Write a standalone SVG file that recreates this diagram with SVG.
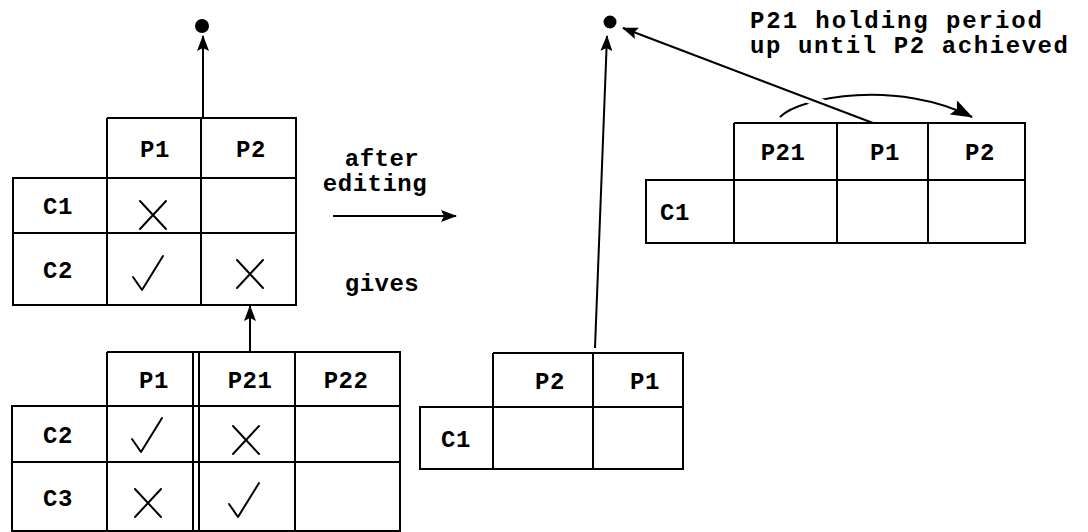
<svg xmlns="http://www.w3.org/2000/svg" width="1088" height="532" viewBox="0 0 1088 532">
<style>
.g{fill:none;stroke:#000;stroke-width:2}
.t{font-family:"Liberation Mono","Courier New",monospace;font-weight:bold;font-size:24px;letter-spacing:0.5px;fill:#000;text-anchor:middle}
.l{font-family:"Liberation Mono","Courier New",monospace;font-weight:bold;font-size:24px;fill:#000}
.m{fill:none;stroke:#000;stroke-width:2;stroke-linecap:round;stroke-linejoin:round}
.c{fill:none;stroke:#000;stroke-width:2}
</style>
<defs>
<marker id="ah" markerWidth="16" markerHeight="12" refX="15" refY="6" orient="auto" markerUnits="userSpaceOnUse">
<path d="M0,0 L16,6 L0,12 L3,6 Z" fill="#000"/>
</marker>
<marker id="ahb" markerWidth="22" markerHeight="16" refX="21" refY="8" orient="auto" markerUnits="userSpaceOnUse">
<path d="M0,0 L22,8 L0,16 L4,8 Z" fill="#000"/>
</marker>
<g id="x"><path class="m" d="M-13,-14 L13,14 M13,-14 L-13,14"/></g>
<g id="ck"><path class="m" d="M-15,3 L-6,16 L15,-18"/></g>
</defs>
<rect width="1088" height="532" fill="#fff"/>

<g id="table1">
<path class="g" d="M107,118 H296 V305 H13 V178 H296 M107,118 V305 M201,118 V305 M13,233 H296"/>
<text class="t" x="155" y="157">P1</text>
<text class="t" x="251" y="157">P2</text>
<text class="t" x="58" y="214">C1</text>
<text class="t" x="58" y="278">C2</text>
<use href="#x" x="153" y="215"/>
<use href="#ck" x="148" y="274"/>
<use href="#x" x="250" y="274"/>
</g>

<g id="table2">
<path class="g" d="M107,352 H400 V531 H12 V406 H400 M107,352 V531 M193,352 V531 M199,352 V531 M295,352 V531 M12,462 H400"/>
<text class="t" x="154" y="388">P1</text>
<text class="t" x="250" y="388">P21</text>
<text class="t" x="346" y="388">P22</text>
<text class="t" x="58" y="443">C2</text>
<text class="t" x="58" y="506">C3</text>
<use href="#ck" x="147" y="436"/>
<use href="#x" x="246" y="440"/>
<use href="#x" x="148" y="503"/>
<use href="#ck" x="244" y="501"/>
</g>

<g id="table3">
<path class="g" d="M493,353 H683 V469 H420 V407 H683 M493,353 V469 M593,353 V469"/>
<text class="t" x="550" y="389">P2</text>
<text class="t" x="645" y="389">P1</text>
<text class="t" x="456" y="447">C1</text>
</g>

<g id="table4">
<path class="g" d="M734,123 H1025 V243 H646 V180 H1025 M734,123 V243 M837,123 V243 M928,123 V243"/>
<text class="t" x="783" y="160">P21</text>
<text class="t" x="885" y="160">P1</text>
<text class="t" x="980" y="160">P2</text>
<text class="t" x="675" y="220">C1</text>
</g>

<g id="dots">
<circle cx="202" cy="26" r="7" fill="#000"/>
<circle cx="610" cy="22" r="6.5" fill="#000"/>
</g>

<g id="labels">
<text class="t" x="382" y="166">after</text>
<text class="t" x="375" y="191">editing</text>
<text class="t" x="382" y="291">gives</text>
<text class="l" x="750" y="28" textLength="292">P21 holding period</text>
<text class="l" x="750" y="53" textLength="318">up until P2 achieved</text>
</g>

<g id="connectors">
<line class="c" x1="203" y1="117" x2="203" y2="36" marker-end="url(#ah)"/>
<line class="c" x1="250" y1="352" x2="250" y2="306" marker-end="url(#ah)"/>
<line class="c" x1="333" y1="216" x2="456" y2="216" marker-end="url(#ah)"/>
<line class="c" x1="595" y1="348" x2="607" y2="36" marker-end="url(#ah)"/>
<path class="c" d="M780,117 C800,96 900,80 972,117" marker-end="url(#ahb)"/>
<line x1="826" y1="105" x2="804" y2="97" stroke="#fff" stroke-width="9"/>
<line class="c" x1="873" y1="123" x2="623" y2="28" marker-end="url(#ah)"/>
</g>
</svg>
